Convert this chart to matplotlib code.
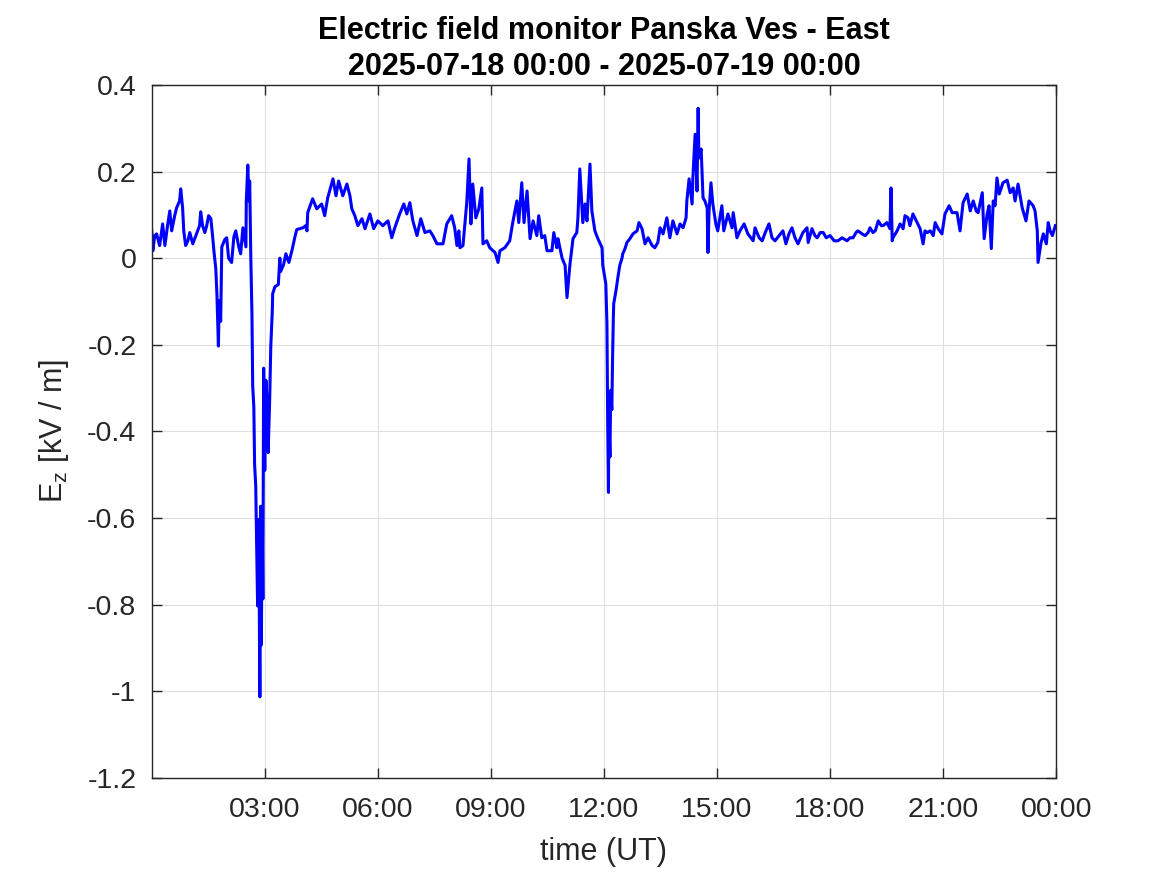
import numpy as np
import matplotlib
matplotlib.use("Agg")
import matplotlib.pyplot as plt

# hours since 2025-07-18 00:00 UT, and E_z in kV/m
hours = [
    0.00, 0.03, 0.08, 0.13, 0.21, 0.29, 0.35, 0.42, 0.48, 0.53, 0.61, 0.66, 0.74, 0.77, 0.82, 0.85,
    0.90, 0.96, 1.01, 1.09, 1.19, 1.27, 1.30, 1.35, 1.41, 1.46, 1.51, 1.57, 1.62, 1.65, 1.70, 1.73,
    1.77, 1.79, 1.83, 1.86, 1.94, 1.99, 2.04, 2.12, 2.18, 2.23, 2.31, 2.36, 2.42, 2.50, 2.51, 2.55,
    2.58, 2.60, 2.63, 2.66, 2.68, 2.71, 2.73, 2.76, 2.79, 2.81, 2.84, 2.87, 2.89, 2.91, 2.93, 2.95,
    2.97, 3.00, 3.03, 3.05, 3.09, 3.13, 3.16, 3.20, 3.21, 3.27, 3.36, 3.40, 3.42, 3.50, 3.56, 3.64,
    3.72, 3.80, 3.85, 3.93, 4.01, 4.09, 4.12, 4.14, 4.27, 4.38, 4.51, 4.59, 4.67, 4.81, 4.89, 4.96,
    5.07, 5.18, 5.26, 5.31, 5.39, 5.47, 5.58, 5.66, 5.79, 5.89, 6.00, 6.13, 6.27, 6.37, 6.45, 6.58,
    6.69, 6.77, 6.85, 6.93, 7.04, 7.14, 7.25, 7.38, 7.46, 7.57, 7.73, 7.83, 7.96, 8.04, 8.10, 8.15,
    8.18, 8.26, 8.31, 8.36, 8.42, 8.47, 8.52, 8.60, 8.68, 8.76, 8.79, 8.89, 8.97, 9.11, 9.19, 9.24,
    9.37, 9.50, 9.58, 9.69, 9.74, 9.82, 9.88, 9.96, 10.04, 10.12, 10.22, 10.27, 10.35, 10.43, 10.49, 10.62,
    10.67, 10.75, 10.78, 10.89, 10.97, 11.02, 11.10, 11.18, 11.28, 11.31, 11.36, 11.44, 11.50, 11.55, 11.63, 11.68,
    11.76, 11.84, 11.95, 11.97, 12.05, 12.08, 12.10, 12.12, 12.13, 12.16, 12.18, 12.21, 12.23, 12.25, 12.26, 12.32,
    12.37, 12.42, 12.48, 12.50, 12.56, 12.61, 12.69, 12.77, 12.88, 12.93, 13.01, 13.09, 13.17, 13.28, 13.35, 13.43,
    13.49, 13.57, 13.67, 13.75, 13.83, 13.94, 14.02, 14.10, 14.18, 14.20, 14.26, 14.34, 14.36, 14.42, 14.47, 14.50,
    14.52, 14.58, 14.63, 14.68, 14.74, 14.76, 14.79, 14.84, 14.89, 14.97, 15.02, 15.13, 15.18, 15.29, 15.40, 15.43,
    15.53, 15.61, 15.72, 15.82, 15.96, 16.01, 16.12, 16.20, 16.28, 16.38, 16.46, 16.54, 16.65, 16.75, 16.83, 16.91,
    16.99, 17.07, 17.15, 17.28, 17.39, 17.42, 17.52, 17.60, 17.66, 17.74, 17.82, 17.90, 18.00, 18.11, 18.21, 18.32,
    18.45, 18.53, 18.61, 18.69, 18.74, 18.85, 18.93, 19.01, 19.06, 19.14, 19.20, 19.28, 19.36, 19.41, 19.51, 19.59,
    19.62, 19.65, 19.67, 19.78, 19.86, 19.94, 19.99, 20.07, 20.12, 20.20, 20.31, 20.39, 20.47, 20.52, 20.58, 20.66,
    20.74, 20.79, 20.87, 20.97, 21.05, 21.16, 21.24, 21.37, 21.45, 21.53, 21.64, 21.72, 21.80, 21.88, 21.93, 22.04,
    22.09, 22.17, 22.22, 22.28, 22.33, 22.38, 22.43, 22.49, 22.59, 22.70, 22.78, 22.86, 22.91, 22.99, 23.10, 23.20,
    23.28, 23.39, 23.44, 23.50, 23.52, 23.60, 23.66, 23.74, 23.79, 23.84, 23.90, 23.98,
]
ez = [
    0.063, 0.017, 0.052, 0.056, 0.029, 0.079, 0.029, 0.075, 0.109, 0.063, 0.098, 0.116, 0.132, 0.160, 0.116, 0.063,
    0.029, 0.040, 0.059, 0.033, 0.056, 0.075, 0.107, 0.075, 0.059, 0.075, 0.098, 0.091, 0.047, 0.017, -0.024, -0.082,
    -0.203, -0.098, -0.146, 0.026, 0.043, 0.047, 0.000, -0.010, 0.049, 0.063, 0.026, 0.010, 0.070, 0.026, 0.132, 0.215,
    0.132, 0.178, 0.000, -0.130, -0.295, -0.344, -0.475, -0.525, -0.698, -0.803, -0.603, -1.013, -0.573, -0.893, -0.573, -0.787,
    -0.254, -0.490, -0.282, -0.311, -0.449, -0.328, -0.203, -0.121, -0.082, -0.066, -0.061, 0.000, -0.031, -0.015, 0.010, -0.010,
    0.017, 0.049, 0.066, 0.068, 0.070, 0.075, 0.063, 0.105, 0.137, 0.114, 0.125, 0.098, 0.139, 0.183, 0.144, 0.178,
    0.144, 0.171, 0.144, 0.114, 0.098, 0.075, 0.091, 0.068, 0.102, 0.068, 0.086, 0.075, 0.086, 0.047, 0.070, 0.102,
    0.125, 0.102, 0.128, 0.086, 0.052, 0.091, 0.059, 0.063, 0.052, 0.033, 0.033, 0.079, 0.098, 0.070, 0.029, 0.063,
    0.024, 0.029, 0.079, 0.128, 0.229, 0.079, 0.171, 0.093, 0.114, 0.162, 0.033, 0.040, 0.024, 0.013, -0.010, 0.017,
    0.024, 0.040, 0.082, 0.132, 0.082, 0.174, 0.082, 0.155, 0.045, 0.086, 0.052, 0.098, 0.047, 0.052, 0.017, 0.017,
    0.059, 0.024, 0.045, 0.000, -0.017, -0.091, -0.013, 0.045, 0.059, 0.093, 0.206, 0.082, 0.125, 0.086, 0.217, 0.109,
    0.063, 0.045, 0.024, -0.017, -0.059, -0.151, -0.380, -0.541, -0.366, -0.459, -0.305, -0.350, -0.229, -0.137, -0.105, -0.075,
    -0.045, -0.017, 0.000, 0.010, 0.022, 0.036, 0.045, 0.056, 0.063, 0.082, 0.068, 0.033, 0.047, 0.029, 0.024, 0.036,
    0.070, 0.056, 0.093, 0.047, 0.086, 0.056, 0.079, 0.070, 0.093, 0.132, 0.183, 0.125, 0.185, 0.286, 0.155, 0.346,
    0.231, 0.252, 0.139, 0.132, 0.116, 0.013, 0.109, 0.174, 0.125, 0.079, 0.063, 0.121, 0.063, 0.102, 0.070, 0.105,
    0.047, 0.063, 0.079, 0.056, 0.040, 0.070, 0.047, 0.040, 0.059, 0.079, 0.047, 0.040, 0.052, 0.063, 0.033, 0.056,
    0.070, 0.047, 0.033, 0.059, 0.070, 0.036, 0.068, 0.052, 0.047, 0.059, 0.059, 0.047, 0.052, 0.040, 0.040, 0.047,
    0.040, 0.047, 0.047, 0.059, 0.063, 0.056, 0.052, 0.059, 0.070, 0.059, 0.063, 0.086, 0.075, 0.075, 0.082, 0.068,
    0.162, 0.040, 0.047, 0.063, 0.079, 0.068, 0.098, 0.093, 0.075, 0.102, 0.082, 0.068, 0.033, 0.063, 0.059, 0.063,
    0.052, 0.082, 0.068, 0.056, 0.102, 0.121, 0.105, 0.105, 0.063, 0.128, 0.148, 0.109, 0.132, 0.109, 0.105, 0.151,
    0.045, 0.102, 0.121, 0.022, 0.132, 0.121, 0.185, 0.148, 0.174, 0.180, 0.151, 0.162, 0.132, 0.171, 0.116, 0.086,
    0.132, 0.121, 0.109, 0.063, -0.010, 0.036, 0.056, 0.033, 0.082, 0.063, 0.052, 0.075,
]

x_ticks = [3, 6, 9, 12, 15, 18, 21, 24]
x_ticklabels = ["03:00", "06:00", "09:00", "12:00", "15:00", "18:00", "21:00", "00:00"]
y_ticks = [-1.2, -1.0, -0.8, -0.6, -0.4, -0.2, 0.0, 0.2, 0.4]
y_ticklabels = ["-1.2", "-1", "-0.8", "-0.6", "-0.4", "-0.2", "0", "0.2", "0.4"]

plt.rcParams['font.family'] = ['Liberation Sans', 'DejaVu Sans']
plt.rcParams['axes.unicode_minus'] = False

txt = '#262626'
fig = plt.figure(figsize=(11.67, 8.75), dpi=100)
ax = fig.add_axes([0.130, 0.111, 0.775, 0.792])

ax.plot(hours, ez, color='#0000ff', linewidth=2.2)

ax.set_xlim(0, 24)
ax.set_ylim(-1.2, 0.4)
ax.set_xticks(x_ticks)
ax.set_xticklabels(x_ticklabels)
ax.set_yticks(y_ticks)
ax.set_yticklabels(y_ticklabels)

ax.grid(True, color='#dfdfdf', linewidth=0.8)
ax.set_axisbelow(True)
ax.tick_params(direction='in', length=7, width=1, top=True, right=True,
               labelsize=20.5, colors=txt)
ax.tick_params(axis='x', pad=14)
ax.tick_params(axis='y', pad=11)
for s in ax.spines.values():
    s.set_color(txt)
    s.set_linewidth(1)

ax.set_xlabel('time (UT)', fontsize=22, color=txt, labelpad=10)
ax.set_ylabel(r'E$_\mathregular{z}$ [kV / m]', fontsize=22, color=txt, labelpad=12)
ax.set_title('Electric field monitor Panska Ves - East\n2025-07-18 00:00 - 2025-07-19 00:00',
             fontsize=22, fontweight='bold', color='black', pad=7, linespacing=1.25)

fig.savefig('out.png', dpi=100)
